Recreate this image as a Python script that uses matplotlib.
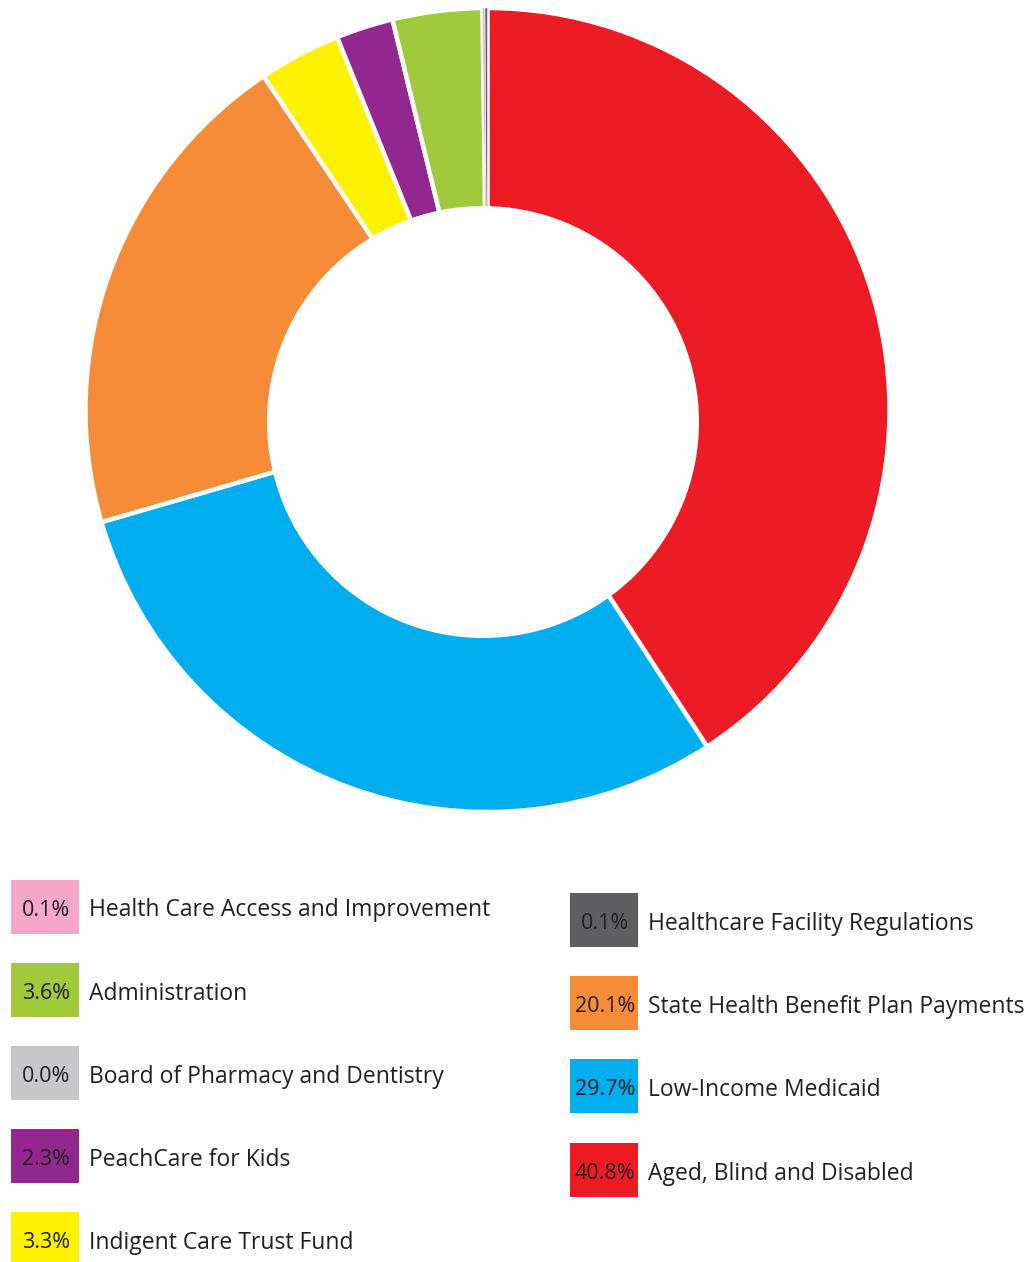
import matplotlib
matplotlib.use("Agg")
import matplotlib.pyplot as plt
from matplotlib.patches import Rectangle, Circle

plt.rcParams["font.family"] = ["Open Sans", "DejaVu Sans"]

# slices, clockwise from 12 o'clock
pie_labels = ["Aged, Blind and Disabled", "Low-Income Medicaid",
              "State Health Benefit Plan Payments", "Indigent Care Trust Fund",
              "PeachCare for Kids", "Administration",
              "Health Care Access and Improvement",
              "Board of Pharmacy and Dentistry",
              "Healthcare Facility Regulations"]
pie_values = [40.8, 29.7, 20.1, 3.3, 2.3, 3.6, 0.1, 0.0, 0.1]
colors = {
    "Aged, Blind and Disabled": "#ED1C24",
    "Low-Income Medicaid": "#00AEEF",
    "State Health Benefit Plan Payments": "#F68B38",
    "Indigent Care Trust Fund": "#FFF200",
    "PeachCare for Kids": "#92278F",
    "Administration": "#A0CA3C",
    "Health Care Access and Improvement": "#F5A7C9",
    "Board of Pharmacy and Dentistry": "#C8C8CA",
    "Healthcare Facility Regulations": "#5F5F61",
}
pct_text = {
    "Aged, Blind and Disabled": "40.8%",
    "Low-Income Medicaid": "29.7%",
    "State Health Benefit Plan Payments": "20.1%",
    "Indigent Care Trust Fund": "3.3%",
    "PeachCare for Kids": "2.3%",
    "Administration": "3.6%",
    "Health Care Access and Improvement": "0.1%",
    "Board of Pharmacy and Dentistry": "0.0%",
    "Healthcare Facility Regulations": "0.1%",
}
legend_left = ["Health Care Access and Improvement", "Administration",
               "Board of Pharmacy and Dentistry", "PeachCare for Kids",
               "Indigent Care Trust Fund"]
legend_right = ["Healthcare Facility Regulations",
                "State Health Benefit Plan Payments",
                "Low-Income Medicaid", "Aged, Blind and Disabled"]

W, H = 1032, 1262
fig = plt.figure(figsize=(W / 100, H / 100), dpi=100)

# donut (hole in the original sits a little low and left of centre)
cx, cy, r_out = 487.5, 410, 402
hole_x, hole_y, r_in = 483, 422, 216
ax = fig.add_axes([(cx - r_out) / W, (H - cy - r_out) / H, 2 * r_out / W, 2 * r_out / H])
wedges, _ = ax.pie(pie_values, colors=[colors[l] for l in pie_labels],
                   startangle=90, counterclock=False, radius=1,
                   wedgeprops=dict(edgecolor="white", linewidth=3.2))
for w, v in zip(wedges, pie_values):
    if v < 1:
        w.set_linewidth(0.4)
        w.set_zorder(5)
ax.add_patch(Circle(((hole_x - cx) / r_out, -(hole_y - cy) / r_out), r_in / r_out,
                    facecolor="white", edgecolor="none", zorder=10))
ax.set_xlim(-1, 1)
ax.set_ylim(-1, 1)
ax.set_aspect("auto")
ax.axis("off")

# legend in pixel coordinates
lax = fig.add_axes([0, 0, 1, 1])
lax.set_xlim(0, W)
lax.set_ylim(H, 0)
lax.axis("off")

txt_color = "#231F20"


def legend_column(names, x0, y0, step, box_w=68, box_h=54):
    for i, name in enumerate(names):
        yc = y0 + i * step
        lax.add_patch(Rectangle((x0, yc - box_h / 2), box_w, box_h,
                                facecolor=colors[name], edgecolor="none"))
        lax.text(x0 + box_w / 2 + 1, yc + 1, pct_text[name], ha="center",
                 va="center_baseline", fontsize=15.5, color=txt_color)
        lax.text(x0 + box_w + 10, yc + 1, name, ha="left",
                 va="center_baseline", fontsize=16.5, color=txt_color)


legend_column(legend_left, 11, 906.5, 83.2)
legend_column(legend_right, 570, 920, 83.2)

fig.savefig("out.png", dpi=100)
